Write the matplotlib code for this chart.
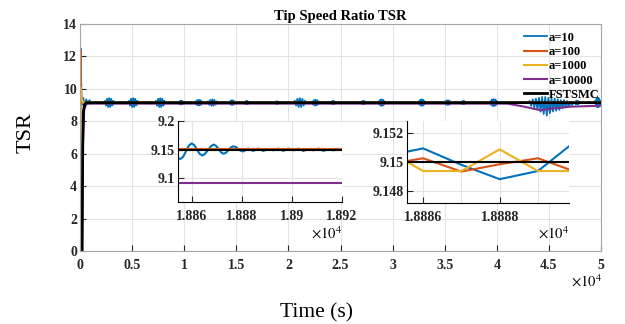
import matplotlib
matplotlib.use('Agg')
import matplotlib.pyplot as plt
from matplotlib.ticker import FuncFormatter, MultipleLocator, FixedLocator

plt.rcParams['font.family'] = ['Liberation Serif', 'DejaVu Serif']
plt.rcParams['mathtext.fontset'] = 'stix'

# MATLAB default colours
c_blue = '#0072BD'
c_orange = '#D95319'
c_yellow = '#EDB120'
c_purple = '#7E2F8E'
c_black = '#000000'

labels = ['a=10', 'a=100', 'a=1000', 'a=10000', 'FSTSMC']

# ---- main plot data (time in s, TSR) ----
# blue (a=10) has short oscillation bursts, one row per burst
blue_t = [0, 50, 150, 300, 450, 600, 750, 900, 1100, 1300,
          2300, 2400, 2500, 2600, 2700, 2800, 2900, 3000, 3100, 3200, 3300,
          4600, 4700, 4800, 4900, 5000, 5100, 5200, 5300, 5400, 5500, 5600,
          7200, 7300, 7400, 7500, 7600, 7700, 7800, 7900, 8000, 8100, 8200,
          9400, 9460, 9520, 9580, 9640, 9700, 9760, 9820, 9880, 9940, 10000,
          11000, 11080, 11160, 11240, 11320, 11400, 11480, 11560, 11640, 11720, 11800,
          12200, 12300, 12400, 12500, 12600, 12700, 12800, 12900, 13000, 13100, 13200,
          14300, 14360, 14420, 14480, 14540, 14600, 14660, 14720, 14780, 14840, 14900,
          15750, 15800, 15850, 15900, 15950, 16000, 16050, 16100, 16150, 16200, 16250,
          18650, 18700, 18750, 18800, 18850, 18900, 18950, 19000, 19050, 19100, 19150,
          20500, 20620, 20740, 20860, 20980, 21100, 21220, 21340, 21460, 21580, 21700,
          22200, 22280, 22360, 22440, 22520, 22600, 22680, 22760, 22840, 22920, 23000,
          24050, 24100, 24150, 24200, 24250, 24300, 24350, 24400, 24450, 24500, 24550,
          26950, 27000, 27050, 27100, 27150, 27200, 27250, 27300, 27350, 27400, 27450,
          28600, 28670, 28740, 28810, 28880, 28950, 29020, 29090, 29160, 29230, 29300,
          32450, 32520, 32590, 32660, 32730, 32800, 32870, 32940, 33010, 33080, 33150,
          34950, 35020, 35090, 35160, 35230, 35300, 35370, 35440, 35510, 35580, 35650,
          36550, 36600, 36650, 36700, 36750, 36800, 36850, 36900, 36950, 37000, 37050,
          39300, 39380, 39460, 39540, 39620, 39700, 39780, 39860, 39940, 40020, 40100,
          43000, 43150, 43300, 43450, 43600, 43750, 43900, 44050, 44200, 44350,
          44500, 44650, 44800, 44950, 45100, 45250, 45400, 45550, 45700, 45850,
          46000, 46150, 46300, 46450, 46600, 46750, 46900, 47050, 47200, 47350,
          47450, 47500, 47550, 47600, 47650, 47700, 47750, 47800, 47850, 47900, 47950,
          49400, 49460, 49520, 49580, 49640, 49700, 49760, 49820, 49880, 49940, 50000]
blue_v = [0, 12.5, 9.0, 9.45, 9.0, 9.35, 9.05, 9.3, 9.1, 9.15,
          9.15, 9.26, 8.97, 9.39, 8.88, 9.43, 8.88, 9.39, 8.97, 9.26, 9.15,
          9.15, 9.26, 8.97, 9.39, 8.88, 9.43, 8.88, 9.39, 8.97, 9.26, 9.15,
          9.15, 9.26, 8.97, 9.39, 8.88, 9.43, 8.88, 9.39, 8.97, 9.26, 9.15,
          9.15, 9.20, 9.07, 9.25, 9.04, 9.27, 9.04, 9.25, 9.07, 9.20, 9.15,
          9.15, 9.22, 9.03, 9.30, 8.98, 9.33, 8.98, 9.30, 9.03, 9.22, 9.15,
          9.15, 9.23, 9.02, 9.32, 8.96, 9.35, 8.96, 9.32, 9.02, 9.23, 9.15,
          9.15, 9.21, 9.05, 9.28, 9.01, 9.30, 9.01, 9.28, 9.05, 9.21, 9.15,
          9.15, 9.19, 9.08, 9.24, 9.06, 9.25, 9.06, 9.24, 9.08, 9.19, 9.15,
          9.15, 9.18, 9.10, 9.22, 9.07, 9.23, 9.07, 9.22, 9.10, 9.18, 9.15,
          9.15, 9.26, 8.97, 9.39, 8.88, 9.43, 8.88, 9.39, 8.97, 9.26, 9.15,
          9.15, 9.22, 9.03, 9.30, 8.98, 9.33, 8.98, 9.30, 9.03, 9.22, 9.15,
          9.15, 9.19, 9.08, 9.24, 9.06, 9.25, 9.06, 9.24, 9.08, 9.19, 9.15,
          9.15, 9.19, 9.08, 9.24, 9.06, 9.25, 9.06, 9.24, 9.08, 9.19, 9.15,
          9.15, 9.23, 9.02, 9.32, 8.96, 9.35, 8.96, 9.32, 9.02, 9.23, 9.15,
          9.15, 9.23, 9.02, 9.32, 8.96, 9.35, 8.96, 9.32, 9.02, 9.23, 9.15,
          9.15, 9.21, 9.05, 9.28, 9.01, 9.30, 9.01, 9.28, 9.05, 9.21, 9.15,
          9.15, 9.19, 9.08, 9.24, 9.06, 9.25, 9.06, 9.24, 9.08, 9.19, 9.15,
          9.15, 9.24, 9.01, 9.34, 8.94, 9.37, 8.94, 9.34, 9.01, 9.24, 9.15,
          9.15, 9.25, 8.95, 9.35, 8.85, 9.40, 8.75, 9.45, 8.60, 9.50,
          8.45, 9.50, 8.35, 9.45, 8.50, 9.40, 8.60, 9.40, 8.65, 9.35,
          8.70, 9.30, 8.80, 9.30, 8.85, 9.25, 8.90, 9.20, 9.00, 9.15,
          9.15, 9.20, 9.07, 9.25, 9.04, 9.27, 9.04, 9.25, 9.07, 9.20, 9.15,
          9.15, 9.27, 8.96, 9.41, 8.87, 9.45, 8.87, 9.41, 8.96, 9.27, 9.15]

orange_t = [0, 40, 120, 250, 50000]
orange_v = [0, 12.4, 9.6, 9.15, 9.15]

yellow_t = [0, 40, 150, 300, 50000]
yellow_v = [0, 10.1, 9.4, 9.15, 9.15]

purple_t = [0, 200, 300, 400, 600, 41000, 42500, 44200, 45500, 47000, 50000]
purple_v = [0, 0, 7.0, 8.7, 9.09, 9.09, 8.92, 8.68, 8.80, 8.90, 8.96]

black_t = [0, 200, 260, 330, 420, 600, 50000]
black_v = [0, 0, 6.5, 8.6, 9.0, 9.15, 9.15]

# ---- inset 1 data (around 1.886e4 s) ----
z1_blue_t = [18854, 18854.6, 18855.6, 18856.7, 18857.8, 18858.9, 18860.0, 18861.1,
             18862.15, 18863.2, 18864.3, 18865.4, 18866.55, 18867.7, 18868.8, 18869.8,
             18870.8, 18871.8, 18872.8, 18873.8, 18874.75, 18875.7, 18876.7, 18877.7,
             18878.65, 18879.6, 18880.6, 18882.6, 18884.6, 18886.6, 18888.6, 18890.6,
             18892.6, 18894.6, 18896.6, 18898.6, 18900.6, 18902.6, 18904.6, 18906.6,
             18908.6, 18910.6, 18912.6, 18914.6, 18916.6, 18918.6, 18920.6]
z1_blue_v = [9.136, 9.135, 9.134, 9.138, 9.1475, 9.157, 9.161, 9.158,
             9.1505, 9.143, 9.140, 9.143, 9.1495, 9.156, 9.159, 9.1567,
             9.151, 9.1453, 9.143, 9.145, 9.1495, 9.154, 9.156, 9.1547,
             9.1515, 9.1483, 9.147, 9.152, 9.148, 9.152, 9.148, 9.151,
             9.149, 9.152, 9.148, 9.152, 9.149, 9.152, 9.148, 9.151,
             9.149, 9.152, 9.148, 9.151, 9.149, 9.151, 9.150]
z1_t = [18850, 18925]
z1_orange = [9.1515, 9.1515]
z1_yellow = [9.1502, 9.1502]
z1_purple = [9.0914, 9.0914]
z1_black = [9.150, 9.150]

# ---- inset 2 data (around 1.8887e4 s) ----
z2_t = [18885, 18886, 18887, 18888, 18889, 18890]
z2_blue = [9.1504, 9.15095, 9.1498, 9.1488, 9.14937, 9.1515]
z2_orange = [9.1498, 9.15026, 9.14933, 9.14984, 9.15026, 9.1493]
z2_yellow = [9.1509, 9.14937, 9.14937, 9.15088, 9.14937, 9.14937]
z2_black = [9.15, 9.15, 9.15, 9.15, 9.15, 9.15]


def scaled(v, pos):
    # MATLAB style labels: value / 1e4 without trailing zeros
    return '%g' % (v / 1e4)


def plain(v, pos):
    return '%g' % round(v, 6)


def style_ticks(ax, size):
    ax.tick_params(direction='in', length=4, width=0.8, colors='#262626',
                   labelsize=size, pad=2)
    ax.tick_params(axis='x', pad=6)
    for lab in ax.get_xticklabels() + ax.get_yticklabels():
        lab.set_fontweight('bold')
    ax.grid(True, color='#e3e3e3', linewidth=0.8)
    ax.set_axisbelow(True)


fig = plt.figure(figsize=(6.25, 3.24), dpi=100)

# main axes
ax = fig.add_axes([0.128, 0.2253, 0.8336, 0.7006])
ax.plot(blue_t, blue_v, color=c_blue, lw=1.3, label=labels[0])
ax.plot(orange_t, orange_v, color=c_orange, lw=1.5, label=labels[1])
ax.plot(yellow_t, yellow_v, color=c_yellow, lw=1.5, label=labels[2])
ax.plot(purple_t, purple_v, color=c_purple, lw=1.5, label=labels[3])
ax.plot(black_t, black_v, color=c_black, lw=2.0, label=labels[4])
ax.set_xlim(0, 50000)
ax.set_ylim(0, 14)
ax.xaxis.set_major_locator(MultipleLocator(5000))
ax.yaxis.set_major_locator(MultipleLocator(2))
ax.xaxis.set_major_formatter(FuncFormatter(scaled))
ax.yaxis.set_major_formatter(FuncFormatter(plain))
style_ticks(ax, 10)
for s in ax.spines.values():
    s.set_color('#a6a6a6')
    s.set_linewidth(0.8)
ax.set_title('Tip Speed Ratio TSR', fontsize=10.5, fontweight='bold', pad=3)
fig.text(0.963, 0.132, r'$\times 10^{4}$', fontsize=10.5, ha='right', va='center')
fig.text(0.507, 0.034, 'Time (s)', fontsize=15.5, ha='center', va='center')
fig.text(0.042, 0.59, 'TSR', fontsize=16, rotation=90, ha='center', va='center')

leg = ax.legend(loc='upper left', bbox_to_anchor=(0.829, 0.921),
                bbox_transform=fig.transFigure, frameon=False, borderpad=0,
                handlelength=1.8, handletextpad=0.15, labelspacing=0.18,
                prop={'family': 'Liberation Serif', 'weight': 'bold', 'size': 9})

# inset 1
ax1 = fig.add_axes([0.2848, 0.3765, 0.2624, 0.25])
ax1.plot(z1_blue_t, z1_blue_v, color=c_blue, lw=1.5)
ax1.plot(z1_t, z1_orange, color=c_orange, lw=1.5)
ax1.plot(z1_t, z1_yellow, color=c_yellow, lw=1.5)
ax1.plot(z1_t, z1_purple, color=c_purple, lw=1.5)
ax1.plot(z1_t, z1_black, color=c_black, lw=1.5)
ax1.set_xlim(18854.6, 18920)
ax1.set_ylim(9.059, 9.2)
ax1.xaxis.set_major_locator(FixedLocator([18860, 18880, 18900, 18920]))
ax1.yaxis.set_major_locator(FixedLocator([9.1, 9.15, 9.2]))
ax1.xaxis.set_major_formatter(FuncFormatter(scaled))
ax1.yaxis.set_major_formatter(FuncFormatter(plain))
style_ticks(ax1, 10)
ax1.spines['top'].set_visible(False)
ax1.spines['right'].set_visible(False)
fig.text(0.547, 0.278, r'$\times 10^{4}$', fontsize=10.5, ha='right', va='center')

# inset 2
ax2 = fig.add_axes([0.6512, 0.3744, 0.2592, 0.2522])
ax2.plot(z2_t, z2_blue, color=c_blue, lw=1.5)
ax2.plot(z2_t, z2_orange, color=c_orange, lw=1.5)
ax2.plot(z2_t, z2_yellow, color=c_yellow, lw=1.5)
ax2.plot(z2_t, z2_black, color=c_black, lw=1.5)
ax2.set_xlim(18885.58, 18889.81)
ax2.set_ylim(9.14716, 9.15286)
ax2.xaxis.set_major_locator(FixedLocator([18886, 18888]))
ax2.xaxis.set_minor_locator(FixedLocator([18887, 18889]))
ax2.yaxis.set_major_locator(FixedLocator([9.148, 9.15, 9.152]))
ax2.xaxis.set_major_formatter(FuncFormatter(scaled))
ax2.yaxis.set_major_formatter(FuncFormatter(plain))
style_ticks(ax2, 10)
ax2.grid(True, which='minor', axis='x', color='#e3e3e3', linewidth=0.8)
ax2.tick_params(which='minor', length=0)
ax2.spines['top'].set_visible(False)
ax2.spines['right'].set_visible(False)
fig.text(0.910, 0.278, r'$\times 10^{4}$', fontsize=10.5, ha='right', va='center')

plt.savefig('out.png', dpi=100)
